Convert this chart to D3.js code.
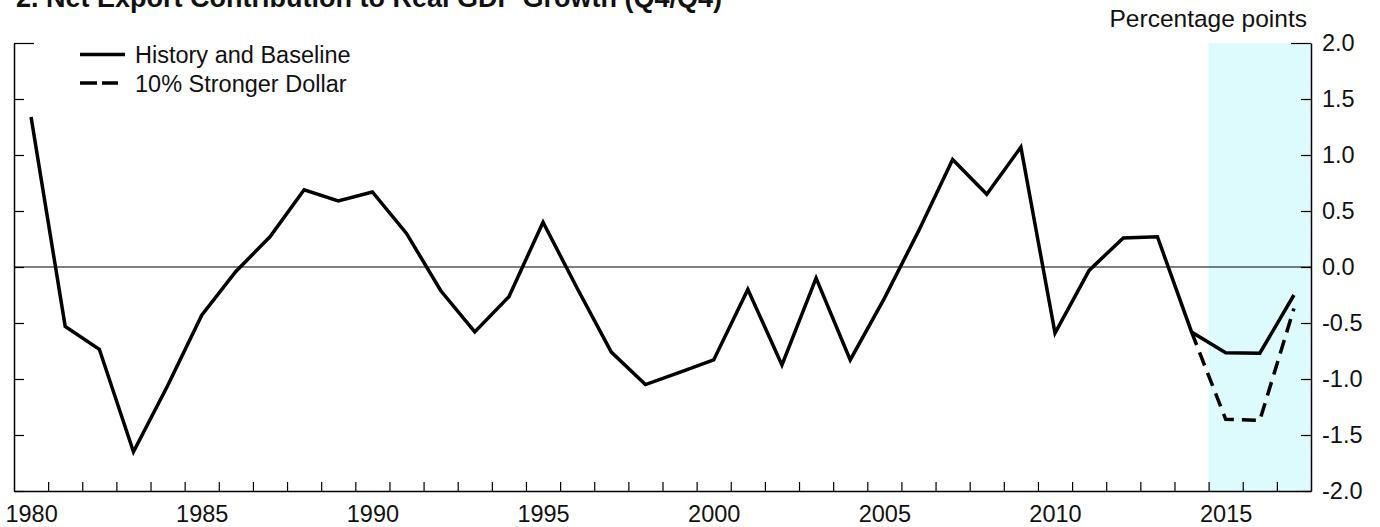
<!DOCTYPE html>
<html>
<head>
<meta charset="utf-8">
<script src="https://cdn.jsdelivr.net/npm/d3@7"></script>
<style>
  html, body { margin: 0; padding: 0; background: #fff; }
  svg { display: block; font-family: "Liberation Sans", Arial, sans-serif; }
</style>
</head>
<body>
<svg id="chart" width="1380" height="527"></svg>
<script>
// ---- data ----
const years = [1980,1981,1982,1983,1984,1985,1986,1987,1988,1989,
               1990,1991,1992,1993,1994,1995,1996,1997,1998,1999,
               2000,2001,2002,2003,2004,2005,2006,2007,2008,2009,
               2010,2011,2012,2013,2014,2015,2016,2017];
const historyBaseline = [1.34,-0.53,-0.735,-1.65,-1.06,-0.43,-0.04,0.27,0.69,0.59,
                         0.67,0.30,-0.21,-0.58,-0.265,0.40,-0.19,-0.76,-1.05,-0.94,
                         -0.83,-0.20,-0.875,-0.10,-0.83,-0.28,0.32,0.96,0.65,1.07,
                         -0.59,-0.03,0.26,0.27,-0.58,-0.765,-0.77,-0.25];
const dollarYears = [2014,2015,2016,2017];
const strongerDollar = [-0.58,-1.36,-1.37,-0.37];
const yTicks = [-2.0,-1.5,-1.0,-0.5,0.0,0.5,1.0,1.5,2.0];
const xLabelYears = [1980,1985,1990,1995,2000,2005,2010,2015];
const shadeRange = [2015, 2018];
const title = "2. Net Export Contribution to Real GDP Growth (Q4/Q4)";
const unitsLabel = "Percentage points";
const legendLabels = ["History and Baseline", "10% Stronger Dollar"];

// ---- layout ----
const svg = d3.select("#chart");
const mLeft = 14, mRight = 1311, mTop = 43, mBottom = 491;
const fontSize = 23;
const x = d3.scaleLinear().domain([1980, 2018]).range([mLeft, mRight]);
const y = d3.scaleLinear().domain([-2, 2]).range([mBottom, mTop]);

// shaded forecast region
svg.append("rect")
  .attr("x", x(shadeRange[0])).attr("y", y(2))
  .attr("width", x(shadeRange[1]) - x(shadeRange[0]))
  .attr("height", y(-2) - y(2))
  .attr("fill", "#ddfafd");

// zero line
svg.append("line")
  .attr("x1", x(1980)).attr("x2", x(2018))
  .attr("y1", y(0)).attr("y2", y(0))
  .attr("stroke", "#000").attr("stroke-width", 1.2);

// left axis (ticks only)
const gL = svg.append("g").attr("transform", `translate(${mLeft},0)`)
  .call(d3.axisLeft(y).tickValues(yTicks).tickSizeInner(-10).tickSizeOuter(0).tickFormat(""));
// right axis with labels
const gR = svg.append("g").attr("transform", `translate(${mRight},0)`)
  .call(d3.axisRight(y).tickValues(yTicks).tickSizeInner(-10).tickSizeOuter(0)
        .tickPadding(11).tickFormat(d3.format(".1f")));
gR.selectAll("text").text(d => d3.format(".1f")(d).replace("−", "-"))
  .attr("font-size", fontSize + 0.5).attr("fill", "#111").attr("font-family", "Liberation Sans, Arial, sans-serif");
// longer top ticks
gL.selectAll(".tick").filter(d => d === 2).select("line").attr("x2", 20);
gR.selectAll(".tick").filter(d => d === 2).select("line").attr("x2", -20);

// bottom axis: ticks at year boundaries
const boundaryYears = years.slice(1);
const gB = svg.append("g").attr("transform", `translate(0,${mBottom})`)
  .call(d3.axisBottom(x).tickValues(boundaryYears).tickSizeInner(-9).tickSizeOuter(0).tickFormat(""));
// bottom labels at mid-year
const gBL = svg.append("g").attr("transform", `translate(0,${mBottom})`)
  .call(d3.axisBottom(x).tickValues(xLabelYears.map(d => d + 0.5)).tickSize(0).tickPadding(14)
        .tickFormat(d => String(Math.floor(d))));
gBL.select(".domain").remove();
gBL.selectAll("text").attr("font-size", fontSize + 0.5).attr("fill", "#111").attr("font-family", "Liberation Sans, Arial, sans-serif");

svg.selectAll(".domain").attr("stroke", "#000").attr("stroke-width", 1.5);
svg.selectAll(".tick line").attr("stroke", "#000").attr("stroke-width", 1.2);

// lines
const line = d3.line().x(d => x(d[0] + 0.5)).y(d => y(d[1]));
svg.append("path")
  .datum(years.map((yr, i) => [yr, historyBaseline[i]]))
  .attr("d", line).attr("fill", "none").attr("stroke", "#000")
  .attr("stroke-width", 3.5).attr("stroke-linejoin", "miter");
svg.append("path")
  .datum(dollarYears.map((yr, i) => [yr, strongerDollar[i]]))
  .attr("d", line).attr("fill", "none").attr("stroke", "#000")
  .attr("stroke-width", 3.5).attr("stroke-dasharray", "14,8");

// legend
const lg = svg.append("g");
lg.append("line").attr("x1", 80).attr("x2", 125).attr("y1", 54.5).attr("y2", 54.5)
  .attr("stroke", "#000").attr("stroke-width", 3.5);
lg.append("line").attr("x1", 80).attr("x2", 118).attr("y1", 83).attr("y2", 83)
  .attr("stroke", "#000").attr("stroke-width", 3.5).attr("stroke-dasharray", "17,5");
lg.selectAll("text.lg").data(legendLabels).join("text").attr("class", "lg")
  .attr("x", 135).attr("y", (d, i) => 55 + i * 28.5).attr("dy", "0.35em")
  .attr("font-size", fontSize + 0.5).attr("fill", "#111").text(d => d);

// title & units
svg.append("text").attr("x", 16).attr("y", 7).attr("font-size", 27).attr("font-weight", "bold")
  .attr("fill", "#111").text(title);
svg.append("text").attr("x", 1307).attr("y", 27).attr("text-anchor", "end")
  .attr("font-size", 24.5).attr("fill", "#111").text(unitsLabel);
</script>
</body>
</html>
